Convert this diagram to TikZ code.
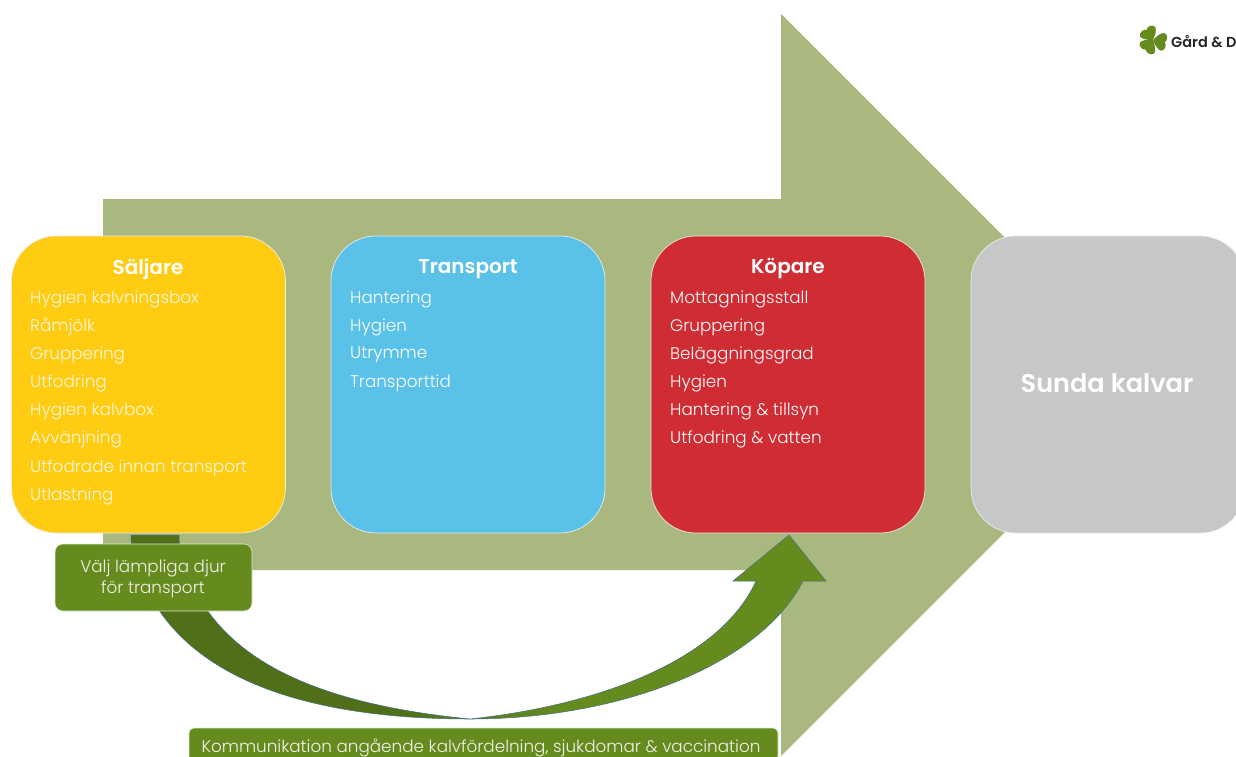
\documentclass[tikz,border=0pt]{standalone}
\usepackage{fontspec}
\setmainfont{Poppins Light}[BoldFont={Poppins SemiBold}]
\definecolor{bigarrow}{HTML}{A8B87F}
\definecolor{arrowgreen}{HTML}{658A1E}
\definecolor{arrowdark}{HTML}{4F6F18}
\definecolor{edgeblue}{HTML}{44708A}
\definecolor{sellerc}{HTML}{FFCC11}
\definecolor{transc}{HTML}{5AC1E8}
\definecolor{buyerc}{HTML}{D02C33}
\definecolor{healthyc}{HTML}{C6C7C9}
\definecolor{softwhite}{HTML}{FFF8E0}
\pgfdeclarehorizontalshading{arrowfade}{100bp}{color(0bp)=(arrowdark);color(44bp)=(arrowdark);color(56bp)=(arrowgreen);color(100bp)=(arrowgreen)}
\tikzset{
  x=1pt,y=-1pt,
  panel/.style={draw=white!92!black,line width=0.7pt,rounded corners=45pt,minimum width=274pt,minimum height=297pt,inner sep=0pt},
  paneltitle/.style={text=white,font=\fontsize{20}{22}\selectfont\bfseries,inner sep=0pt},
  item/.style={anchor=west,text=#1,font=\fontsize{16.8}{20}\selectfont,inner sep=0pt},
  item/.default=white,
  note/.style={fill=arrowgreen,draw=white!80!arrowgreen,line width=0.6pt,inner sep=0pt},
  notetext/.style={text=white!90!arrowgreen,align=center,font=\fontsize{16.8}{21.5}\selectfont,inner sep=0pt},
  leaf/.style={fill=arrowgreen,draw=none},
}
\begin{document}
\begin{tikzpicture}
\useasboundingbox (0,0) rectangle (1236,756);
\clip (0,0) rectangle (1236,756);
\fill[white] (0,0) rectangle (1236,756);
% big arrow
\fill[bigarrow] (103,199) -- (781,199) -- (781,14) -- (1152,385) -- (781,756) -- (781,570) -- (103,570) -- cycle;
% curved arrow
\draw[edgeblue,line width=0.5pt,shading=arrowfade,shading angle=0]
  (131,535) -- (131,540) .. controls (155,675) and (300,719) .. (470,719)
  .. controls (620,719) and (760,665) .. (803,581)
  -- (826,581) -- (789,535) -- (733,581) -- (756,581)
  .. controls (720,660) and (600,705) .. (470,719)
  .. controls (330,705) and (200,665) .. (179,540) -- (179,535) -- cycle;
% panels
\node[panel,fill=sellerc] (seller) at (148.5,384.5) {};
\node[panel,fill=transc] (transport) at (468,384.5) {};
\node[panel,fill=buyerc] (buyer) at (788,384.5) {};
\node[panel,fill=healthyc] (healthy) at (1108,384.5) {};
\node[paneltitle] (sellerT) at (148,269) {Säljare};
\node[paneltitle] (transT) at (468,269) {Transport};
\node[paneltitle] (buyerT) at (788,269) {Köpare};
\node[text=white,font=\fontsize{25.6}{30}\selectfont\bfseries,inner sep=0pt] (healthyT) at (1107,383) {Sunda kalvar};
\node[item=softwhite] (s1) at (30,299) {Hygien kalvningsbox};
\node[item=softwhite] (s2) at (30,327) {Råmjölk};
\node[item=softwhite] (s3) at (30,355) {Gruppering};
\node[item=softwhite] (s4) at (30,383) {Utfodring};
\node[item=softwhite] (s5) at (30,411.500) {Hygien kalvbox};
\node[item=softwhite] (s6) at (30,439.500) {Avvänjning};
\node[item=softwhite] (s7) at (30,468) {Utfodrade innan transport};
\node[item=softwhite] (s8) at (30,496) {Utlastning};
\node[item] (t1) at (350,299) {Hantering};
\node[item] (t2) at (350,327) {Hygien};
\node[item] (t3) at (350,355) {Utrymme};
\node[item] (t4) at (350,383) {Transporttid};
\node[item] (b1) at (670,299) {Mottagningsstall};
\node[item] (b2) at (670,327) {Gruppering};
\node[item] (b3) at (670,355) {Beläggningsgrad};
\node[item] (b4) at (670,383) {Hygien};
\node[item] (b5) at (670,411.500) {Hantering \& tillsyn};
\node[item] (b6) at (670,439.500) {Utfodring \& vatten};
% notes
\node[note,rounded corners=8pt,minimum width=197pt,minimum height=67pt] (choose) at (153.5,577.5) {};
\node[notetext] (chooseT) at (153,579) {Välj lämpliga djur\\för transport};
\draw[note,rounded corners=5pt] (189,770) -- (189,728) -- (778,728) -- (778,770) -- cycle;
\node[notetext] (comm) at (481,747.500) {Kommunikation angående kalvfördelning, sjukdomar \& vaccination};
% logo
\begin{scope}[shift={(1153,40)}]
  \foreach \a in {123,233,349}{
    \begin{scope}[rotate=\a]
      \fill[leaf] (0,0) .. controls (3,-5) and (7,-9) .. (10,-9) .. controls (14,-8) and (14.500,-2) .. (12,0) .. controls (14.500,2) and (14,8) .. (10,9) .. controls (7,9) and (3,5) .. (0,0) -- cycle;
    \end{scope}
  }
\end{scope}
\node[anchor=west,text=black!85,font=\fontsize{14.5}{18}\selectfont\bfseries,inner sep=0pt] (logo) at (1171,42) {Gård \& D};
\end{tikzpicture}
\end{document}
